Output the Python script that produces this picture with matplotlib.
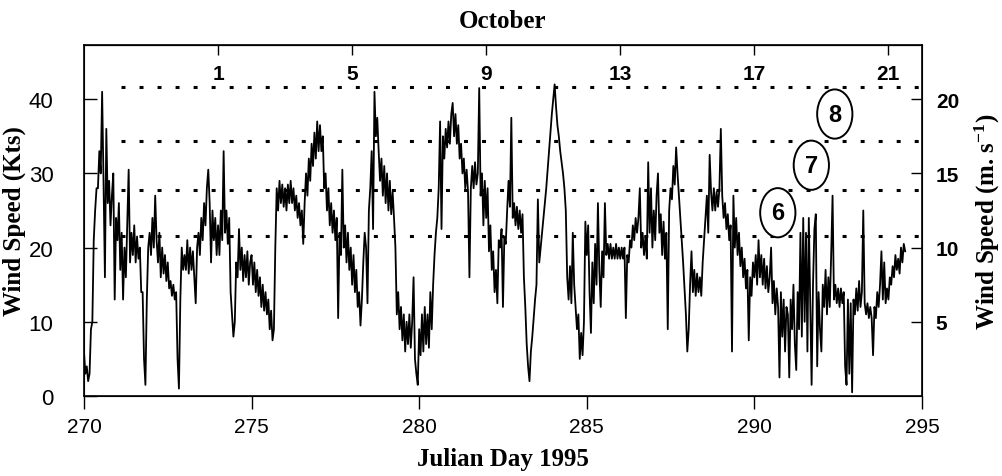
import numpy as np
import matplotlib.pyplot as plt

plt.rcParams['mathtext.fontset'] = 'custom'
plt.rcParams['mathtext.rm'] = 'Liberation Serif:bold'
plt.rcParams['mathtext.bf'] = 'Liberation Serif:bold'
plt.rcParams['mathtext.default'] = 'bf'

SERIF = 'Liberation Serif'
SANS = 'Liberation Sans'

start_day = 270.0
samples_per_day = 24

# hourly wind speed (knots), one row per Julian day
wind_kts = [
    6, 3, 4, 2, 3, 9, 10, 21, 25, 28, 28, 33, 30, 41, 29, 16, 36, 26, 29, 23, 27, 30, 13, 24,                      # 270
    21, 26, 17, 22, 13, 20, 16, 23, 30.5, 18, 22, 19, 23, 18, 21.5, 18.5, 20, 14, 14, 5, 1.5, 13, 20, 22,          # 271
    19, 24, 20, 27, 21, 18, 22, 16, 20, 16.5, 19, 15.5, 18, 14.5, 15.5, 13.5, 15, 13, 14, 5, 1, 13, 20, 17,        # 272
    19, 17, 21, 16.5, 20, 17, 19.5, 16, 12.5, 20, 22, 19, 24, 21, 26, 23, 28, 30.5, 26, 18, 25, 21, 24, 19,        # 273
    23, 19, 25, 21, 33, 22, 25, 20.5, 24, 14, 11, 8, 10, 18, 16, 22.5, 17, 20, 15.5, 19, 16, 19.5, 15, 18,         # 274
    19, 15, 18, 14, 17, 13.5, 16, 12, 15, 11.5, 14, 11, 13, 9, 11.5, 7.5, 9, 20, 28, 25, 29, 26, 28.5, 25.5,       # 275
    28, 25, 28.5, 26, 29, 26, 28, 25, 27, 24, 26, 23, 25, 20.5, 26, 30, 27, 32, 29, 34, 31, 35.5, 32, 37,          # 276
    33, 36.5, 33, 35, 28, 30, 25, 28, 23, 26, 22, 25, 21, 24, 10.5, 22, 19, 30.5, 20, 23, 18, 22, 17, 20,          # 277
    15, 19, 14, 17, 12, 14, 9.5, 13, 18, 22, 20, 12.5, 25, 28, 33, 22.5, 41, 35, 37.5, 33, 29, 32, 27, 31,         # 278
    26, 30, 25, 29, 24.5, 27.5, 24, 20, 11, 14, 9, 12, 7.5, 11, 6, 10, 7, 11, 6.5, 10, 16, 5, 3, 1.5,              # 279
    9, 5.5, 11, 6, 12, 7, 11, 6.5, 14, 9, 15, 19, 22, 24, 28, 37, 22.5, 35, 32, 36, 33.5, 37, 34, 38,              # 280
    39.5, 35, 38, 34, 36.5, 32, 34, 30, 32, 28, 30.5, 27.5, 16, 28, 31, 28, 31.5, 28.5, 30, 41.5, 27, 30, 23, 29,  # 281
    24, 28, 19.5, 23, 17, 19.5, 14, 17, 12.5, 21, 20, 22.5, 12, 21.5, 20.5, 25, 29, 25.5, 37.5, 24, 26, 23, 25.5, 22.5,  # 282
    25, 22, 24.5, 16, 12, 7, 4, 2, 6, 8, 10.5, 13, 15, 26.5, 18, 20, 22, 24, 26, 28, 30.5, 33, 35.5, 38,           # 283
    40, 42, 39, 36.5, 35, 33, 31.5, 30, 28, 25, 16, 13, 17.5, 12.5, 22, 15, 12, 9, 11, 5, 8.5, 5.5, 10, 23.5,      # 284
    19, 23, 14, 8.5, 18, 12.5, 20.5, 15, 26, 17, 12, 19.5, 16, 26, 19, 20.5, 18.5, 20.5, 18.5, 20, 18.5, 20.5, 18.5, 20,  # 285
    18.5, 20, 18.5, 20, 10.5, 19, 18, 21, 20, 23, 21, 24, 22, 24, 28, 20, 22, 19, 21.5, 18.5, 31.5, 22, 28, 20,    # 286
    25, 21, 27, 30, 22, 24.5, 19, 23.5, 18.5, 22, 9, 25, 28, 26.5, 31, 28.5, 33.5, 30, 27, 24, 21, 18, 14.5, 11,   # 287
    6, 9, 15, 19.5, 14, 17, 13.5, 16.5, 14, 16, 13.5, 18, 21, 24, 27, 22, 32.5, 27.5, 25, 28, 25, 27.5, 25.5, 28,  # 288
    36, 27, 24, 26, 22.5, 24.5, 21, 23, 6, 27, 20, 24, 19, 22, 17.5, 20, 16, 18.5, 14.5, 17, 7.5, 16, 13.5, 18,    # 289
    16, 19, 15, 21, 16, 19, 15, 18.5, 14.5, 17.5, 14, 16, 20, 12.5, 15.5, 11, 14.5, 12, 2.5, 14, 8, 13, 6, 12,     # 290
    11, 2.5, 13, 9, 15, 7, 3.5, 14, 9, 22, 8, 24, 10, 22, 6, 24, 13, 1.5, 15, 22.5, 24.5, 4, 14, 9,                # 291
    6, 15, 12, 17, 11, 16, 12, 19, 27, 13, 15, 12.5, 14.5, 12, 14.5, 12.5, 14, 4, 1.5, 13, 3, 12.5, 0.5, 13,       # 292
    11, 14.5, 11.5, 15.5, 12, 14, 25, 12.5, 11, 12.5, 10.5, 12, 10.5, 5.5, 12, 10.5, 14, 12, 15, 19.5, 13, 18, 12.5, 14.5,  # 293
    13, 16, 15, 17.5, 16, 19, 17, 18.5, 16.5, 20, 18, 20.5, 19.5,                                                  # 294
]

julian_ticks = [270, 275, 280, 285, 290, 295]
kts_ticks = [0, 10, 20, 30, 40]
ms_ticks = [5, 10, 15, 20]
october_days = [1, 5, 9, 13, 17, 21]
sept_30_julian = 273

# Beaufort force thresholds (m/s) and the force numbers between them
beaufort_ms = [10.8, 13.9, 17.2, 20.8]
beaufort_force = ['6', '7', '8']

fig = plt.figure(figsize=(10.02, 4.77), dpi=100)
ax = fig.add_axes([0.0838, 0.1677, 0.8363, 0.7358])

t = start_day + np.arange(len(wind_kts)) / samples_per_day
ax.plot(t, wind_kts, color='black', lw=1.3)

ax.set_xlim(270, 295)
ax.set_ylim(0, 47.3)
ax.set_xticks(julian_ticks)
ax.set_yticks(kts_ticks)
ax.tick_params(axis='x', direction='out', length=9, width=1, pad=6)
ax.tick_params(axis='y', direction='in', length=9, width=1, pad=22)
for lab in ax.get_xticklabels():
    lab.set_fontfamily(SANS)
    lab.set_fontsize(15)
for lab in ax.get_yticklabels():
    lab.set_fontfamily(SANS)
    lab.set_fontsize(16)
for sp in ax.spines.values():
    sp.set_linewidth(1.2)

ax.set_xlabel('Julian Day 1995', family=SERIF, weight='bold', fontsize=18, labelpad=8)
ax.set_ylabel('Wind Speed (Kts)', family=SERIF, weight='bold', fontsize=18, labelpad=2)

# right axis in m/s
ax2 = ax.twinx()
ax2.set_ylim(0, 47.3 / 2)
ax2.set_yticks(ms_ticks)
ax2.tick_params(axis='y', direction='in', length=8, width=1, pad=10)
for lab in ax2.get_yticklabels():
    lab.set_fontfamily(SANS)
    lab.set_fontsize(15)
    lab.set_fontweight('bold')
ax2.set_ylabel('Wind Speed (m. s$^{-1}$)', family=SERIF, weight='bold', fontsize=18, labelpad=10)

ax2.hlines(beaufort_ms, 271.1, 295, colors='black', lw=2.2,
           linestyles=[(0, (1.3, 4.6))])

force_x = [290.7, 291.7, 292.4]
for i, f in enumerate(beaufort_force):
    ymid = (beaufort_ms[i] + beaufort_ms[i + 1]) / 2
    ax2.text(force_x[i], ymid, f, ha='center', va='center', family=SANS,
             weight='bold', fontsize=17,
             bbox=dict(boxstyle='ellipse,pad=0.25', fc='white', ec='black', lw=1.4))

# top axis: October dates
top = ax.secondary_xaxis('top')
top.set_xticks([sept_30_julian + d for d in october_days])
top.set_xticklabels([str(d) for d in october_days])
top.tick_params(axis='x', direction='in', length=7, width=1, pad=-27)
for lab in top.get_xticklabels():
    lab.set_fontfamily(SANS)
    lab.set_fontsize(15)
    lab.set_fontweight('bold')
top.set_xlabel('October', family=SERIF, weight='bold', fontsize=18, labelpad=13)

fig.savefig('out.png', dpi=100)
